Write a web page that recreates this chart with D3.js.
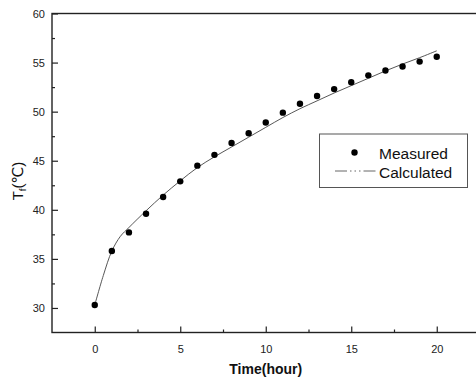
<!DOCTYPE html>
<html>
<head>
<meta charset="utf-8">
<script src="https://cdn.jsdelivr.net/npm/d3@7"></script>
<style>
html,body{margin:0;padding:0;background:#fff;}
svg{display:block;}
</style>
</head>
<body>
<svg id="chart" width="476" height="380"></svg>
<script>
// ---- data ----
const measuredTime = [0,1,2,3,4,5,6,7,8,9,10,11,12,13,14,15,16,17,18,19,20];
const measuredTemp = [30.3,35.8,37.7,39.6,41.3,42.9,44.5,45.6,46.8,47.8,48.9,49.9,50.8,51.6,52.3,53.0,53.7,54.2,54.6,55.1,55.6];
const calcTime = [0,0.5,1,1.5,2,3,4,5,6,7,8,9,10,11,12,13,14,15,16,17,18,19,20];
const calcTemp = [30.3,33.3,35.8,37.3,38.2,39.9,41.5,42.95,44.3,45.4,46.4,47.4,48.4,49.4,50.3,51.1,51.9,52.65,53.4,54.15,54.85,55.5,56.2];
const xTicks = [0,5,10,15,20];
const yTicks = [30,35,40,45,50,55,60];
const xLabel = "Time(hour)";
const legendLabels = ["Measured","Calculated"];

// ---- layout ----
const svg = d3.select("#chart");
const L = 52, R = 479.5, T = 13.5, B = 332.5;
const x = d3.scaleLinear().domain([-2.5,22.5]).range([L,R]);
const y = d3.scaleLinear().domain([27.5,60]).range([B,T]);
const font = "'Liberation Sans', Arial, 'DejaVu Sans', sans-serif";

// frame
svg.append("rect").attr("x",L).attr("y",T).attr("width",R-L).attr("height",B-T)
  .attr("fill","none").attr("stroke","#222").attr("stroke-width",1.4);

// x axis
const xAxis = d3.axisBottom(x).tickValues(xTicks).tickSize(-6).tickPadding(10).tickFormat(d3.format("d"));
const gx = svg.append("g").attr("transform",`translate(0,${B})`).call(xAxis);
gx.select(".domain").remove();
gx.selectAll(".tick line").attr("stroke","#222").attr("stroke-width",1.2);
gx.selectAll(".tick text").attr("font-family",font).attr("font-size",11).attr("fill","#222").attr("dy","0.95em");
const xMinor = d3.axisBottom(x).tickValues([2.5,7.5,12.5,17.5]).tickSize(-3).tickFormat("");
const gxm = svg.append("g").attr("transform",`translate(0,${B})`).call(xMinor);
gxm.select(".domain").remove();
gxm.selectAll(".tick line").attr("stroke","#222").attr("stroke-width",1.2);

// y axis
const yAxis = d3.axisLeft(y).tickValues(yTicks).tickSize(-6).tickPadding(7).tickFormat(d3.format("d"));
const gy = svg.append("g").attr("transform",`translate(${L},0)`).call(yAxis);
gy.select(".domain").remove();
gy.selectAll(".tick line").attr("stroke","#222").attr("stroke-width",1.2);
gy.selectAll(".tick text").attr("font-family",font).attr("font-size",11).attr("fill","#222");
const yMinor = d3.axisLeft(y).tickValues([32.5,37.5,42.5,47.5,52.5,57.5]).tickSize(-3).tickFormat("");
const gym = svg.append("g").attr("transform",`translate(${L},0)`).call(yMinor);
gym.select(".domain").remove();
gym.selectAll(".tick line").attr("stroke","#222").attr("stroke-width",1.2);

// axis titles
svg.append("text").attr("x",x(10)).attr("y",374).attr("text-anchor","middle")
  .attr("font-family",font).attr("font-size",14).attr("font-weight","bold").attr("fill","#111").text(xLabel);
const yt = svg.append("text").attr("transform","translate(22.5,181) rotate(-90)").attr("text-anchor","middle")
  .attr("font-family",font).attr("font-size",15).attr("fill","#111");
yt.append("tspan").text("T");
yt.append("tspan").attr("font-size",9.5).attr("dy",3).text("f");
yt.append("tspan").attr("dy",-3).text("(℃)");

// calculated line
const line = d3.line().x((d,i)=>x(calcTime[i])).y(d=>y(d)).curve(d3.curveCatmullRom.alpha(0.5));
svg.append("path").datum(calcTemp).attr("d",line).attr("fill","none")
  .attr("stroke","#444").attr("stroke-width",0.9);

// measured points
svg.append("g").selectAll("circle").data(measuredTemp).join("circle")
  .attr("cx",(d,i)=>x(measuredTime[i])).attr("cy",d=>y(d)).attr("r",3.2).attr("fill","#000");

// legend
const lg = svg.append("g");
lg.append("rect").attr("x",319.5).attr("y",134).attr("width",148).attr("height",53.5)
  .attr("fill","#fff").attr("stroke","#555").attr("stroke-width",1);
lg.append("circle").attr("cx",354.5).attr("cy",152.5).attr("r",3.2).attr("fill","#000");
lg.append("text").attr("x",379).attr("y",158.5).attr("font-family",font).attr("font-size",15.5).attr("fill","#111").text(legendLabels[0]);
lg.append("line").attr("x1",335).attr("x2",377).attr("y1",171).attr("y2",171)
  .attr("stroke","#555").attr("stroke-width",0.9).attr("stroke-dasharray","12,3,1.5,3,1.5,3,1.5,3");
lg.append("text").attr("x",379).attr("y",177.5).attr("font-family",font).attr("font-size",15.5).attr("fill","#111").text(legendLabels[1]);
</script>
</body>
</html>
